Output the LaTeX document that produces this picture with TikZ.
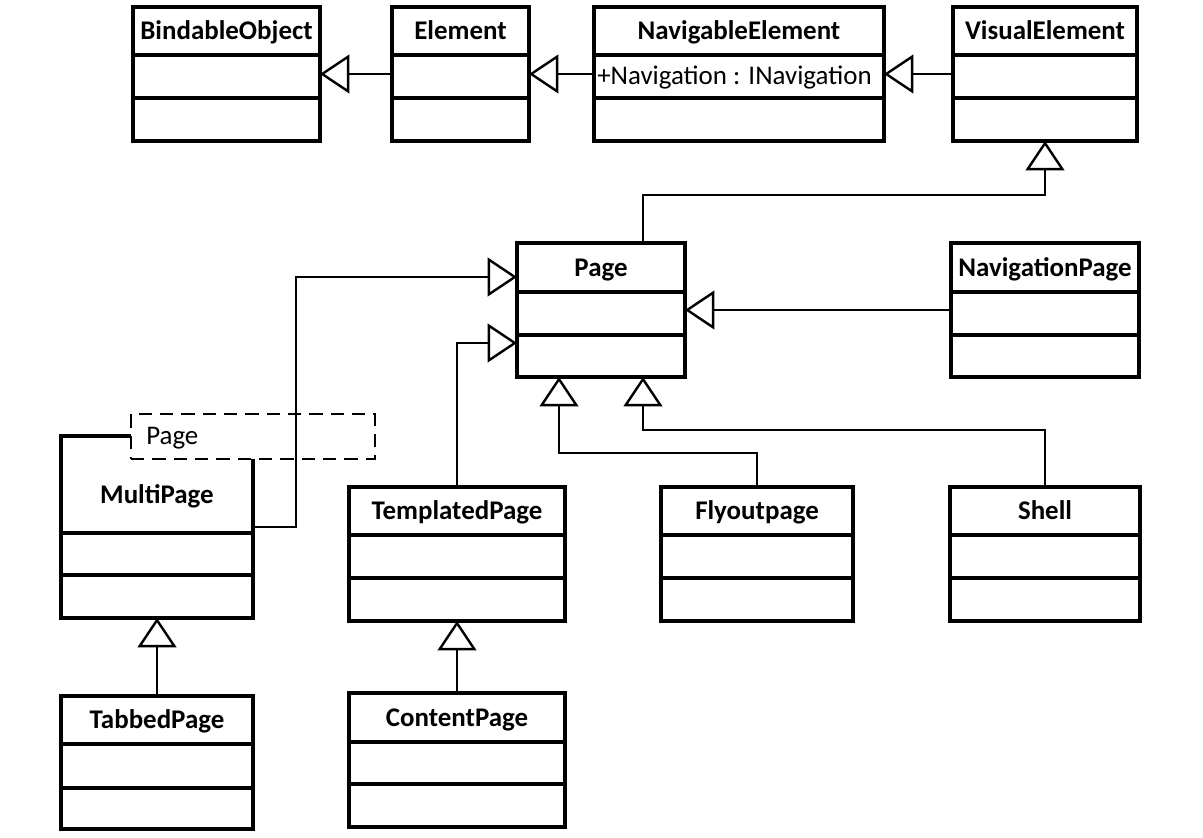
\documentclass[tikz,border=0pt]{standalone}
\usepackage{fontspec}
\setmainfont{Carlito}
\usetikzlibrary{arrows.meta}
\tikzset{
classline/.style={line width=2.3pt},
classbox/.style={classline, draw, rectangle, fill=white, inner sep=0pt, outer sep=0pt},
classname/.style={anchor=base, inner sep=0pt, font=\fontsize{20.2}{24}\selectfont\bfseries},
attrtext/.style={anchor=base west, inner sep=0pt, font=\fontsize{20.2}{24}\selectfont},
tempbox/.style={draw, rectangle, fill=white, line width=2pt, dash pattern=on 10pt off 6pt, inner sep=0pt, outer sep=0pt},
inherit/.style={line width=1.3pt, -{Triangle[open, length=22pt, width=29pt, line width=1.8pt]}}
}
\newcommand{\umlclass}[9]{%
\node[classbox, minimum width={(#4-#2)*0.75pt}, minimum height={(#7-#3)*0.75pt}] (#1) at ({(#2+#4)/2},{(#3+#7)/2}) {};
\draw[classline] (#2,#5)--(#4,#5) (#2,#6)--(#4,#6);
\node[classname] (#1name) at ({(#2+#4)/2},#8) {#9};
}
\begin{document}
\begin{tikzpicture}[x=0.75pt, y=-0.75pt]
\useasboundingbox (0,0) rectangle (1203,838);
\umlclass{bindable}{133}{7}{320}{55}{98}{141}{39.5}{BindableObject}
\umlclass{element}{392}{7}{529}{55}{98}{141}{39.5}{Element}
\umlclass{navigable}{594}{7}{884}{55}{98}{141}{39.5}{NavigableElement}
\umlclass{visual}{953}{7}{1137}{55}{98}{141}{39.5}{VisualElement}
\node[attrtext] (navattr) at (597,85) {+Navigation : INavigation};
\umlclass{page}{517}{243}{685}{292}{335}{377}{276}{Page}
\umlclass{navpage}{951}{243}{1139}{292}{335}{377}{276}{NavigationPage}
\umlclass{multipage}{61}{436}{253}{533}{575}{618}{503}{MultiPage}
\umlclass{templated}{349}{487}{565}{535}{578}{621}{519.5}{TemplatedPage}
\umlclass{flyout}{661}{487}{853}{535}{578}{621}{519.5}{Flyoutpage}
\umlclass{shell}{950}{487}{1140}{535}{578}{621}{519.5}{Shell}
\umlclass{tabbed}{61}{696}{253}{744}{788}{829}{728.5}{TabbedPage}
\umlclass{content}{349}{693}{565}{742}{784}{827}{726}{ContentPage}
\node[tempbox, minimum width={244*0.75pt}, minimum height={45*0.75pt}] (template) at (253,436.5) {};
\node[attrtext] (templabel) at (146,444.5) {Page};
\coordinate (pageup) at (643,195);
\coordinate (multibend) at (296,277);
\coordinate (flybend) at (559,453);
\coordinate (shellbend) at (643,430);
\draw[inherit] (element.west) -- (bindable.east);
\draw[inherit] (navigable.west) -- (element.east);
\draw[inherit] (visual.west) -- (navigable.east);
\draw[inherit] (page.north -| pageup) -- (pageup) -| (visual.south);
\draw[inherit] (navpage.west) -- (page.east);
\draw[inherit] (multipage.east |- 0,527) -| (multibend) -- (page.west |- multibend);
\draw[inherit] (templated.north) |- (page.west |- 0,343);
\draw[inherit] (flyout.north) |- (flybend) -- (page.south -| flybend);
\draw[inherit] (shell.north) |- (shellbend) -- (page.south -| shellbend);
\draw[inherit] (tabbed.north) -- (multipage.south);
\draw[inherit] (content.north) -- (templated.south);
\end{tikzpicture}
\end{document}
